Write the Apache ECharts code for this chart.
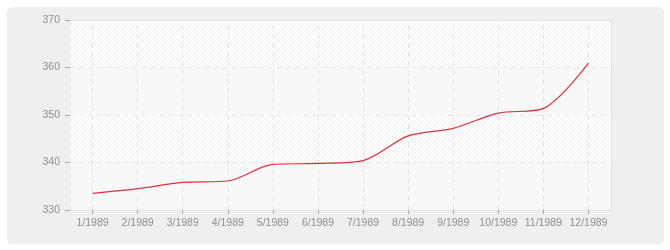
<!DOCTYPE html>
<html>
<head>
<meta charset="utf-8">
<script src="https://cdn.jsdelivr.net/npm/echarts@6/dist/echarts.min.js"></script>
<style>
html,body{margin:0;padding:0;background:#ffffff;}
#bg{position:absolute;left:7px;top:7px;width:657px;height:237px;background:#efefef;border-radius:5px;}
#chart{position:absolute;left:0;top:0;width:670px;height:250px;}
</style>
</head>
<body>
<div id="bg"></div>
<div id="chart"></div>
<script>
var categories = ['1/1989','2/1989','3/1989','4/1989','5/1989','6/1989','7/1989','8/1989','9/1989','10/1989','11/1989','12/1989'];
var populationValues = [333.5, 334.5, 335.8, 336.1, 339.6, 339.8, 340.4, 345.6, 347.2, 350.4, 351.4, 360.9];
var yTicks = [330, 340, 350, 360, 370];

function hatch(bg, fg) {
  var c = document.createElement('canvas');
  c.width = 4; c.height = 4;
  var ctx = c.getContext('2d');
  ctx.fillStyle = bg; ctx.fillRect(0, 0, 4, 4);
  ctx.fillStyle = fg;
  for (var i = 0; i < 4; i++) ctx.fillRect(i, 3 - i, 1, 1);
  return { image: c, repeat: 'repeat' };
}

var labelFont = { color: '#8f8f8f', fontFamily: 'Liberation Sans', fontSize: 10.5 };
var chart = echarts.init(document.getElementById('chart'), null, { renderer: 'canvas' });
chart.setOption({
  animation: false,
  backgroundColor: 'transparent',
  grid: { left: 70, right: 59, top: 20, bottom: 40, show: false },
  xAxis: [{
    type: 'category',
    data: categories,
    boundaryGap: true,
    axisLine: { show: true, lineStyle: { color: '#e2e2e2', width: 1 } },
    axisTick: { show: true, alignWithLabel: true, length: 4, lineStyle: { color: '#a8a8a8' } },
    axisLabel: Object.assign({ margin: 8, interval: 0 }, labelFont),
    splitLine: { show: false }
  }, {
    type: 'category',
    data: categories,
    position: 'top',
    boundaryGap: true,
    axisLine: { show: true, lineStyle: { color: '#e2e2e2', width: 1 } },
    axisTick: { show: false },
    axisLabel: { show: false },
    splitLine: { show: false }
  }],
  yAxis: [{
    type: 'value',
    min: yTicks[0],
    max: yTicks[yTicks.length - 1],
    interval: 10,
    axisLine: { show: true, lineStyle: { color: '#e6e6e6', type: [4, 4] } },
    axisTick: { show: true, length: 5, lineStyle: { color: '#a8a8a8' } },
    axisLabel: Object.assign({ margin: 10 }, labelFont),
    splitLine: { show: true, lineStyle: { color: '#e6e6e6', type: [5, 4], width: 1 } },
    splitArea: { show: true, areaStyle: { color: [hatch('#fafafa', '#f3f3f3'), hatch('#ffffff', '#eeeeee')] } }
  }, {
    type: 'value',
    position: 'right',
    min: yTicks[0],
    max: yTicks[yTicks.length - 1],
    interval: 10,
    axisLine: { show: true, lineStyle: { color: '#e2e2e2', width: 1 } },
    axisTick: { show: false },
    axisLabel: { show: false },
    splitLine: { show: false }
  }],
  series: [{
    type: 'line',
    data: populationValues,
    smooth: 0.3,
    showSymbol: false,
    symbol: 'none',
    lineStyle: { color: '#dd2f3c', width: 1.2 },
    z: 5,
    markLine: {
      silent: true,
      symbol: ['none', 'none'],
      label: { show: false },
      animation: false,
      lineStyle: { color: '#e3e3e3', type: [5, 4], width: 1 },
      data: categories.map(function (c) { return { xAxis: c }; })
    }
  }]
});
</script>
</body>
</html>
